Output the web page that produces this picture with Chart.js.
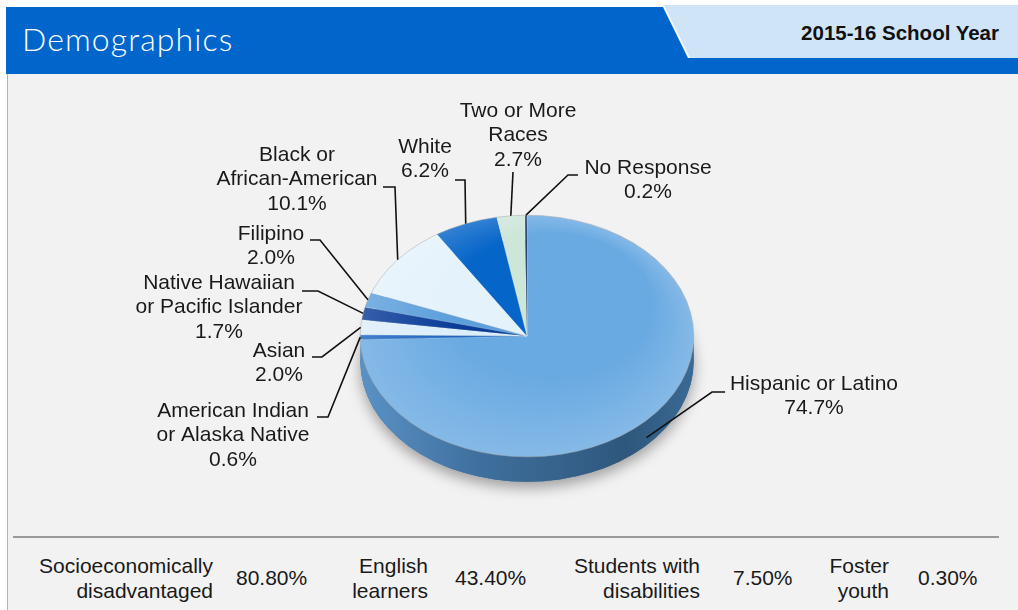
<!DOCTYPE html>
<html>
<head>
<meta charset="utf-8">
<script src="https://cdn.jsdelivr.net/npm/chart.js@4/dist/chart.umd.min.js"></script>
<style>
  html, body { margin:0; padding:0; width:1018px; height:610px; overflow:hidden; background:#ffffff; font-family:"Liberation Sans", Arial, Helvetica, sans-serif; }
  #body { position:absolute; left:7px; top:74px; width:1011px; height:536px; background:#f2f2f2; border-left:1px solid #b5b5b5; box-sizing:border-box; }
  #bar { position:absolute; left:6px; top:7px; width:1012px; height:67px; background:#0066cc; }
  #tabsvg { position:absolute; left:0; top:0; }
  #title { position:absolute; left:22px; top:19px; color:#fff; font-family:"Lato", "Open Sans", sans-serif; font-weight:300; font-size:32px; letter-spacing:1.1px; }
  #year { position:absolute; right:19px; top:21px; color:#111; font-weight:bold; font-size:20.5px; }
  #sep { position:absolute; left:13px; top:536px; width:986px; height:2px; background:#9a9a9a; }
  .st { position:absolute; font-size:21px; line-height:25px; color:#1a1a1a; white-space:nowrap; }
  .r { text-align:right; }
  canvas { position:absolute; left:0; top:0; }
</style>
</head>
<body>
<div id="body"></div>
<div id="bar"></div>
<svg id="tabsvg" width="1018" height="80">
  <polygon points="655,5 1018,5 1018,58 688,58 662,5" fill="#ffffff"/>
  <polygon points="664,5 1018,5 1018,58 690,58" fill="#cfe4f7"/>
</svg>
<div id="title">Demographics</div>
<div id="year">2015-16 School Year</div>
<div id="sep"></div>
<div id="stats"></div>
<canvas id="c" width="1018" height="610"></canvas>
<script>
// ---------- data ----------
const categories = ['Hispanic or Latino','American Indian or Alaska Native','Asian','Native Hawaiian or Pacific Islander','Filipino','Black or African-American','White','Two or More Races','No Response'];
const percents = [74.7, 0.6, 2.0, 1.7, 2.0, 10.1, 6.2, 2.7, 0.2];
const labelLines = [
  ['Hispanic or Latino','74.7%'],
  ['American Indian','or Alaska Native','0.6%'],
  ['Asian','2.0%'],
  ['Native Hawaiian','or Pacific Islander','1.7%'],
  ['Filipino','2.0%'],
  ['Black or','African-American','10.1%'],
  ['White','6.2%'],
  ['Two or More','Races','2.7%'],
  ['No Response','0.2%']
];
const statNames = [['Socioeconomically','disadvantaged'],['English','learners'],['Students with','disabilities'],['Foster','youth']];
const statValues = ['80.80%','43.40%','7.50%','0.30%'];

// ---------- styles / layout ----------
const sliceColors = ['#6aaae2','#1a62c0','#dcedfb','#0a3c98','#5d9fdc','#e4f2fc','#0665c9','#cde6d8','#15386b'];
const labelLayout = [
  {x:814, y:384, pts:[[725,392],[712,392]], side:true},
  {x:233, y:411, pts:[[317,417],[328,417]]},
  {x:279, y:351, pts:[[312,357],[322,357]]},
  {x:219, y:283, pts:[[302,291],[318,291]]},
  {x:271, y:234, pts:[[310,240],[320,240]]},
  {x:297, y:155, pts:[[383,187],[395,187]]},
  {x:425, y:147, pts:[[455,180],[465,180]]},
  {x:518, y:111, pts:[[513,172]]},
  {x:648, y:168, pts:[[578,175],[568,175]]}
];
const statLayout = [
  {right:1018-213, val:236},
  {right:1018-428, val:455},
  {right:1018-700, val:733},
  {right:1018-889, val:918}
];
const K = 121/167;     // vertical squash of the pie
const DEPTH = 25;      // visible thickness
const LINE_H = 24.5;

// bottom stats
const stats = document.getElementById('stats');
statNames.forEach((n, i) => {
  const a = document.createElement('div');
  a.className = 'st r';
  a.style.right = statLayout[i].right + 'px';
  a.style.top = '553px';
  a.innerHTML = n.join('<br>');
  stats.appendChild(a);
  const b = document.createElement('div');
  b.className = 'st';
  b.style.left = statLayout[i].val + 'px';
  b.style.top = '565px';
  b.textContent = statValues[i];
  stats.appendChild(b);
});

const pie3d = {
  id: 'pie3d',
  beforeDatasetsDraw(chart) {
    const ctx = chart.ctx;
    const arc = chart.getDatasetMeta(0).data[0];
    const cx = arc.x, cy = arc.y, rx = arc.outerRadius, ry = rx * K;
    ctx.save();
    ctx.shadowColor = 'rgba(0,0,0,0.35)';
    ctx.shadowBlur = 14;
    ctx.shadowOffsetY = 6;
    ctx.beginPath();
    ctx.ellipse(cx, cy + DEPTH, rx, ry, 0, 0, Math.PI * 2);
    ctx.fillStyle = '#3a6a95';
    ctx.fill();
    ctx.restore();
    ctx.save();
    ctx.beginPath();
    ctx.ellipse(cx, cy, rx, ry, 0, 0, Math.PI, false);
    ctx.lineTo(cx - rx, cy + DEPTH);
    ctx.ellipse(cx, cy + DEPTH, rx, ry, 0, Math.PI, 0, true);
    ctx.closePath();
    const g = ctx.createLinearGradient(cx - rx, 0, cx + rx, 0);
    g.addColorStop(0, '#5a92c6');
    g.addColorStop(0.35, '#3f709e');
    g.addColorStop(0.8, '#2f577c');
    g.addColorStop(1, '#3a6a95');
    ctx.fillStyle = g;
    ctx.fill();
    ctx.restore();
    ctx.save();
    ctx.translate(cx, cy);
    ctx.scale(1, K);
    ctx.translate(-cx, -cy);
  },
  afterDatasetsDraw(chart) {
    const ctx = chart.ctx;
    const arc = chart.getDatasetMeta(0).data[0];
    const cx = arc.x, cy = arc.y, r = arc.outerRadius;
    ctx.beginPath();
    ctx.arc(cx, cy, r, 0, Math.PI * 2);
    const hg = ctx.createRadialGradient(cx + r * 0.15, cy - r * 0.25, r * 0.6, cx, cy, r);
    hg.addColorStop(0, 'rgba(255,255,255,0)');
    hg.addColorStop(1, 'rgba(255,255,255,0.18)');
    ctx.fillStyle = hg;
    ctx.fill();
    ctx.lineWidth = 0.8;
    ctx.strokeStyle = 'rgba(150,150,150,0.6)';
    ctx.stroke();
    ctx.restore();
  },
  afterDraw(chart) {
    const ctx = chart.ctx;
    const arcs = chart.getDatasetMeta(0).data;
    ctx.save();
    ctx.font = '21px "Liberation Sans", Arial, sans-serif';
    ctx.fillStyle = '#1a1a1a';
    ctx.textAlign = 'center';
    ctx.textBaseline = 'middle';
    ctx.strokeStyle = '#111';
    ctx.lineWidth = 1.6;
    arcs.forEach((a, i) => {
      const L = labelLayout[i];
      const mid = (a.startAngle + a.endAngle) / 2;
      let ex = a.x + a.outerRadius * Math.cos(mid);
      let ey = a.y + a.outerRadius * K * Math.sin(mid);
      if (L.side) ey += DEPTH * 0.7;
      ctx.beginPath();
      ctx.moveTo(L.pts[0][0], L.pts[0][1]);
      for (let j = 1; j < L.pts.length; j++) ctx.lineTo(L.pts[j][0], L.pts[j][1]);
      ctx.lineTo(ex, ey);
      ctx.stroke();
      labelLines[i].forEach((t, j) => ctx.fillText(t, L.x, L.y + j * LINE_H));
    });
    ctx.restore();
  }
};

new Chart(document.getElementById('c'), {
  type: 'pie',
  data: {
    labels: categories,
    datasets: [{
      data: percents,
      backgroundColor: sliceColors,
      borderColor: 'rgba(255,255,255,0.35)',
      borderWidth: 0.5
    }]
  },
  options: {
    responsive: false,
    animation: false,
    layout: { padding: { left: 360, right: 324, top: 169, bottom: 107 } },
    plugins: { legend: { display: false }, tooltip: { enabled: false } }
  },
  plugins: [pie3d]
});
</script>
</body>
</html>
